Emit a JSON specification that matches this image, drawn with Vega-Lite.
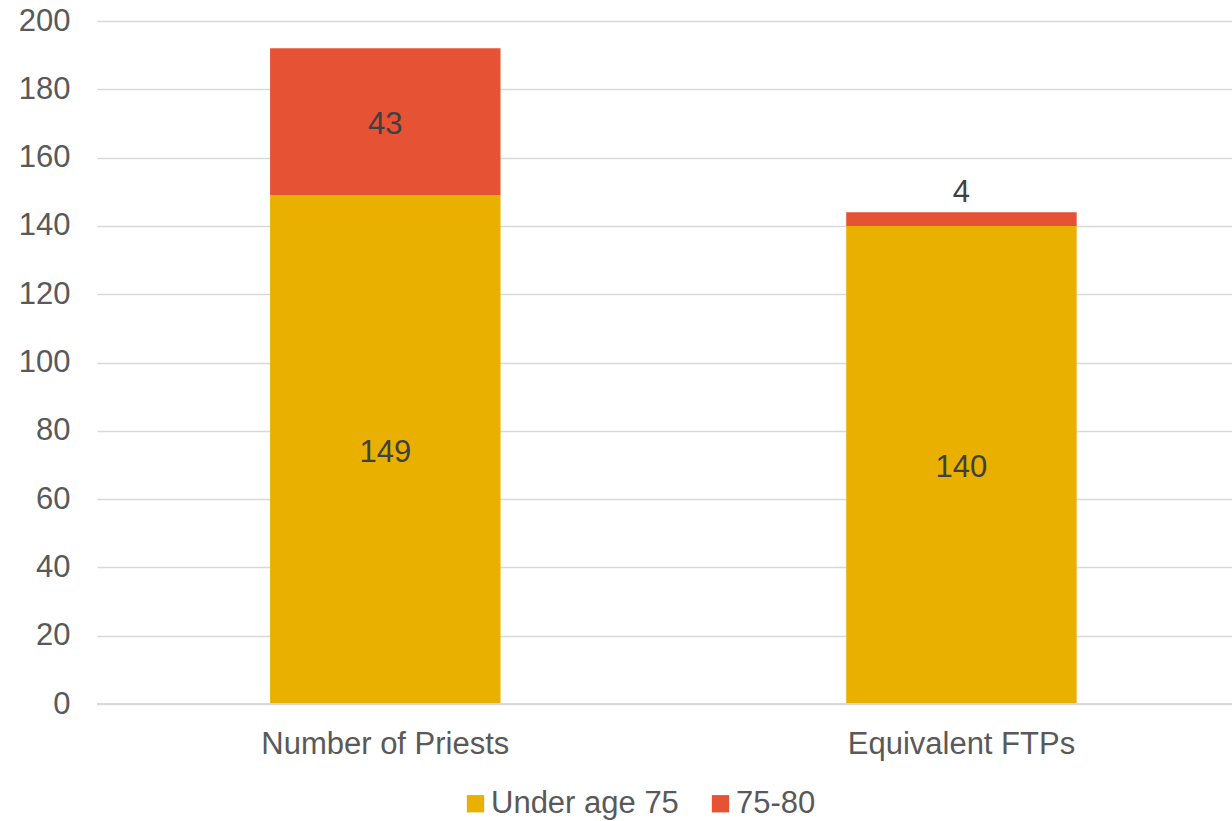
{
  "$schema": "https://vega.github.io/schema/vega-lite/v6.json",
  "autosize": "none",
  "width": 1135,
  "height": 683,
  "padding": {"left": 97, "top": 21, "right": 0, "bottom": 117},
  "background": "white",
  "config": {
    "view": {"stroke": null},
    "font": "Liberation Sans",
    "axis": {"labelFont": "Liberation Sans", "labelColor": "#595959", "labelFontSize": 31, "title": null, "labelLimit": 0}
  },
  "data": {
    "values": [
      {"category": "Number of Priests", "group": "Under age 75", "order": 1, "value": 149},
      {"category": "Number of Priests", "group": "75-80", "order": 2, "value": 43},
      {"category": "Equivalent FTPs", "group": "Under age 75", "order": 1, "value": 140},
      {"category": "Equivalent FTPs", "group": "75-80", "order": 2, "value": 4}
    ]
  },
  "transform": [
    {"stack": "value", "groupby": ["category"], "sort": [{"field": "order"}], "as": ["v0", "v1"]},
    {"calculate": "(datum.v0 + datum.v1) / 2", "as": "mid"}
  ],
  "encoding": {
    "x": {
      "field": "category", "type": "nominal",
      "sort": ["Number of Priests", "Equivalent FTPs"],
      "scale": {"paddingInner": 0.6, "paddingOuter": 0.285, "align": 0.527},
      "axis": {"labelAngle": 0, "ticks": false, "domain": false, "labelPadding": 25, "labelFontSize": 31, "labelLimit": 0}
    }
  },
  "layer": [
    {
      "mark": {"type": "bar"},
      "encoding": {
        "y": {
          "field": "v0", "type": "quantitative",
          "scale": {"domain": [0, 200]},
          "axis": {"values": [0,20,40,60,80,100,120,140,160,180,200], "grid": true, "gridColor": "#d9d9d9", "gridWidth": 1.5, "domain": false, "ticks": false, "labelPadding": 27, "labelFontSize": 31}
        },
        "y2": {"field": "v1"},
        "color": {
          "field": "group", "type": "nominal",
          "scale": {"domain": ["Under age 75", "75-80"], "range": ["#EAB000", "#E65234"]},
          "legend": {
            "title": null, "orient": "none", "legendX": 363, "legendY": 767, "direction": "horizontal",
            "symbolType": "square", "symbolSize": 300, "symbolStrokeWidth": 0,
            "labelFontSize": 31, "labelColor": "#595959", "labelFont": "Liberation Sans", "labelLimit": 0,
            "columnPadding": 26, "labelOffset": 0
          }
        }
      }
    },
    {
      "mark": {"type": "rule", "color": "#d9d9d9", "strokeWidth": 1.5},
      "encoding": {"y": {"datum": 0}, "x": null}
    },
    {
      "transform": [{"filter": "datum.value >= 10"}],
      "mark": {"type": "text", "fontSize": 31, "color": "#404040", "baseline": "middle", "dy": 3},
      "encoding": {
        "y": {"field": "mid", "type": "quantitative"},
        "text": {"field": "value", "type": "quantitative"}
      }
    },
    {
      "transform": [{"filter": "datum.value < 10"}],
      "mark": {"type": "text", "fontSize": 31, "color": "#404040", "baseline": "middle", "dy": -19},
      "encoding": {
        "y": {"field": "v1", "type": "quantitative"},
        "text": {"field": "value", "type": "quantitative"}
      }
    }
  ]
}
